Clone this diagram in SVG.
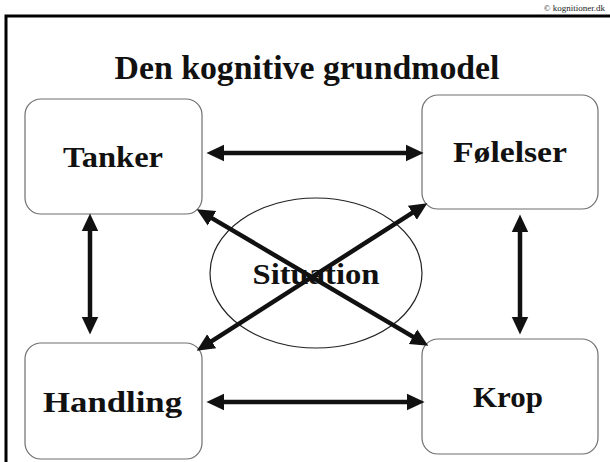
<svg xmlns="http://www.w3.org/2000/svg" width="610" height="462" viewBox="0 0 610 462">
<style>
.box{fill:#fff;stroke:#6f6f6f;stroke-width:1.2}
.lbl{font-family:"Liberation Serif",serif;font-weight:bold;font-size:30px;fill:#111;text-anchor:middle}
.conn{stroke:#111;stroke-width:4.5;fill:none}
</style>
<defs>
<marker id="ah" markerUnits="userSpaceOnUse" markerWidth="20" markerHeight="20" viewBox="0 -8 18 16" refX="2" refY="0" orient="auto-start-reverse">
<path d="M0,-7.5 L16,0 L0,7.5 z" fill="#111"/>
</marker>
</defs>
<rect x="0" y="0" width="610" height="462" fill="#fff"/>
<path d="M6,462 V16 H610" fill="none" stroke="#000" stroke-width="3"/>
<text x="605" y="11" font-family="Liberation Serif,serif" font-size="9" text-anchor="end" fill="#222">© kognitioner.dk</text>
<text x="307" y="79" font-family="Liberation Serif,serif" font-weight="bold" font-size="33" text-anchor="middle" fill="#111" textLength="385" lengthAdjust="spacingAndGlyphs">Den kognitive grundmodel</text>
<g id="situation">
<ellipse cx="316" cy="273" rx="106" ry="75" fill="none" stroke="#222" stroke-width="1.2"/>
<text class="lbl" x="316" y="284" textLength="127" lengthAdjust="spacingAndGlyphs">Situation</text>
</g>
<g id="tanker">
<rect class="box" x="25" y="99" width="177" height="115" rx="16"/>
<text class="lbl" x="113" y="167" textLength="100" lengthAdjust="spacingAndGlyphs">Tanker</text>
</g>
<g id="folelser">
<rect class="box" x="422" y="95" width="176" height="114" rx="16"/>
<text class="lbl" x="510" y="162" textLength="114" lengthAdjust="spacingAndGlyphs">Følelser</text>
</g>
<g id="handling">
<rect class="box" x="25" y="343" width="177" height="116" rx="16"/>
<text class="lbl" x="112.5" y="412" textLength="139" lengthAdjust="spacingAndGlyphs">Handling</text>
</g>
<g id="krop">
<rect class="box" x="422" y="339" width="176" height="115" rx="16"/>
<text class="lbl" x="508" y="407" textLength="70" lengthAdjust="spacingAndGlyphs">Krop</text>
</g>
<g id="connectors">
<line class="conn" x1="222" y1="153" x2="408" y2="153" marker-start="url(#ah)" marker-end="url(#ah)"/>
<line class="conn" x1="222" y1="402" x2="409" y2="402" marker-start="url(#ah)" marker-end="url(#ah)"/>
<line class="conn" x1="90" y1="229" x2="90" y2="319" marker-start="url(#ah)" marker-end="url(#ah)"/>
<line class="conn" x1="520" y1="230" x2="520" y2="319" marker-start="url(#ah)" marker-end="url(#ah)"/>
<line class="conn" x1="210.1" y1="217.1" x2="414.9" y2="337.9" marker-start="url(#ah)" marker-end="url(#ah)"/>
<line class="conn" x1="414.2" y1="211.55" x2="209.8" y2="342.45" marker-start="url(#ah)" marker-end="url(#ah)"/>
</g>
</svg>
